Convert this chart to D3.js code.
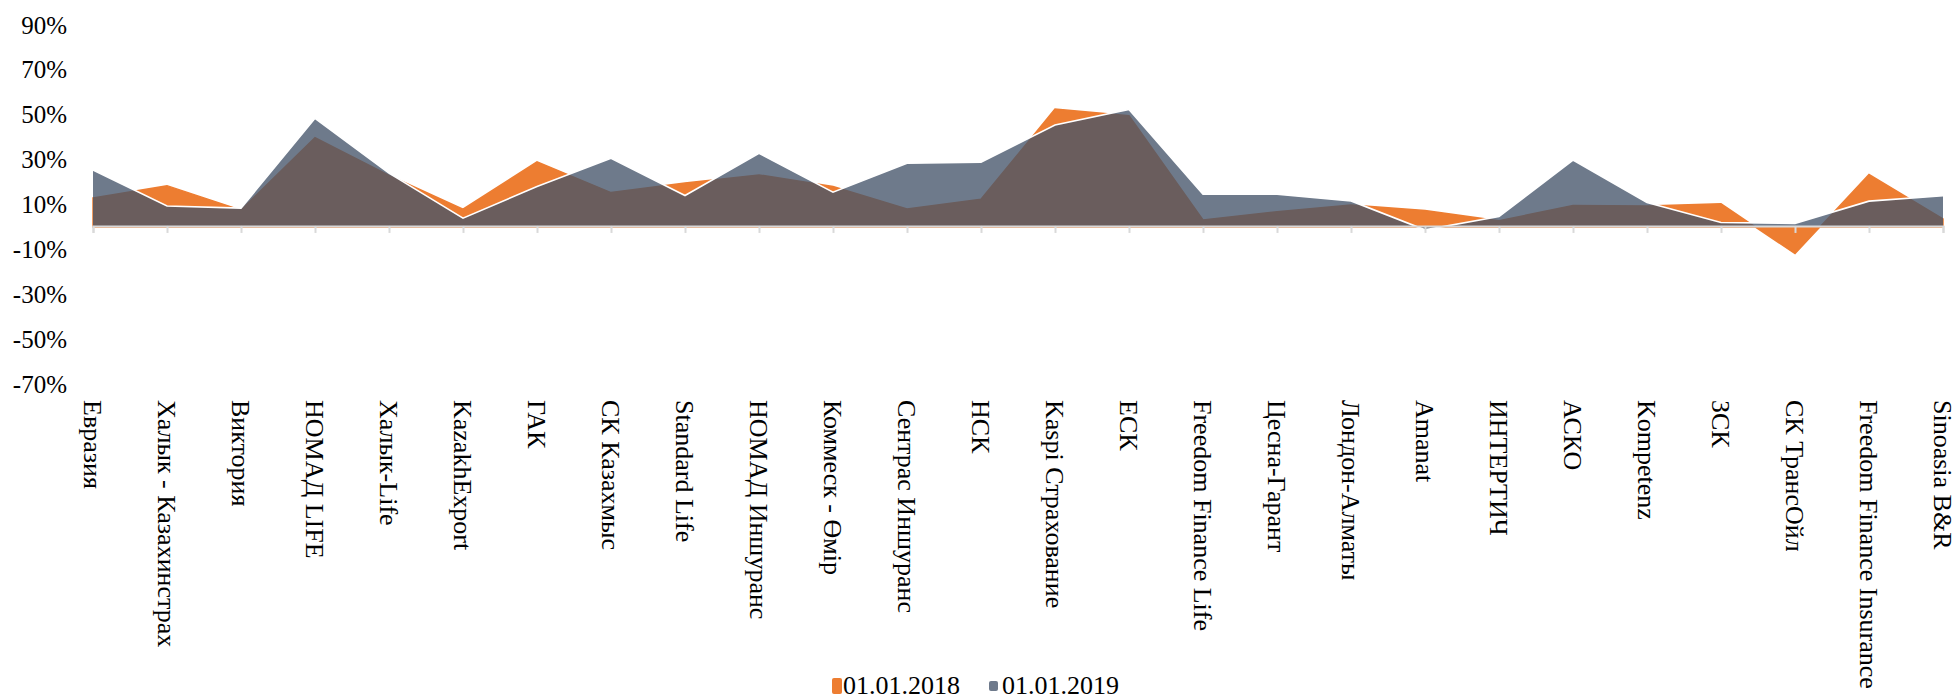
<!DOCTYPE html>
<html>
<head>
<meta charset="utf-8">
<script src="https://cdn.jsdelivr.net/npm/d3@7"></script>
<style>
  body { margin: 0; background: #fff; }
  text { font-family: "Liberation Serif", "Times New Roman", serif; fill: #000; }
</style>
</head>
<body>
<div id="chart"></div>
<script>
// insurance companies (x axis)
var categories = ["Евразия", "Халык - Казахинстрах", "Виктория", "НОМАД LIFE", "Халык-Life",
  "KazakhExport", "ГАК", "СК Казахмыс", "Standard Life", "НОМАД Иншуранс", "Коммеск - Өмір",
  "Сентрас Иншуранс", "НСК", "Kaspi Страхование", "ЕСК", "Freedom Finance Life", "Цесна-Гарант",
  "Лондон-Алматы", "Amanat", "ИНТЕРТИЧ", "АСКО", "Kompetenz", "ЗСК", "СК ТрансОйл",
  "Freedom Finance Insurance", "Sinoasia B&R"];

// values in %
var v2018 = [12.9, 18.4, 7.5, 39.8, 23, 7.9, 29, 15.3, 19.6, 23.2, 18, 8, 12.3, 52.6, 49.6,
  3.1, 6.8, 9.8, 7.3, 2.8, 9.5, 9.3, 10.3, -11.9, 23.4, 3.6];
var v2019 = [25.4, 9.3, 8.4, 48.4, 24, 3.9, 18, 30.6, 14, 32.8, 15.5, 28.4, 28.8, 45.4, 52.4,
  14.6, 14.6, 11.6, -1.3, 4.6, 29.8, 10.9, 2, 1.6, 11.5, 13.9];

var seriesNames = ["01.01.2018", "01.01.2019"];
var yTicks = [-70, -50, -30, -10, 10, 30, 50, 70, 90];

var svgWidth = 1955;
var svgHeight = 696;

var svg = d3.select("#chart")
  .append("svg")
  .attr("width", svgWidth)
  .attr("height", svgHeight);

// scales
var xScale = d3.scalePoint()
  .domain(categories)
  .range([93, 1943]);

var yScale = d3.scaleLinear()
  .domain([-70, 90])
  .range([384, 25]);

var data2018 = categories.map((c, i) => ({ c: c, v: v2018[i] }));
var data2019 = categories.map((c, i) => ({ c: c, v: v2019[i] }));

var area = d3.area()
  .x(d => xScale(d.c))
  .y0(yScale(0))
  .y1(d => yScale(d.v));

var line = d3.line()
  .x(d => xScale(d.c))
  .y(d => yScale(d.v));

// orange area first
svg.append("path")
  .datum(data2018)
  .attr("d", area)
  .attr("fill", "#ED7D31")
  .attr("stroke", "#ED7D31")
  .attr("stroke-width", 1.5);

// gray area on top, semi transparent
svg.append("path")
  .datum(data2019)
  .attr("d", area)
  .attr("fill", "#44546A")
  .attr("fill-opacity", 0.775);

svg.append("path")
  .datum(data2019)
  .attr("d", line)
  .attr("fill", "none")
  .attr("stroke", "#fff")
  .attr("stroke-width", 1.6);

// x axis at zero
var xAxis = d3.axisBottom(xScale)
  .tickSize(7)
  .tickFormat("");

var xAxisG = svg.append("g")
  .attr("transform", `translate(0, ${yScale(0) - 1})`)
  .call(xAxis);
xAxisG.select(".domain").attr("stroke", "#d9d9d9").attr("stroke-width", 2);
xAxisG.selectAll(".tick line").attr("stroke", "#d9d9d9").attr("stroke-width", 2);

// y axis labels (no line)
var yAxis = d3.axisLeft(yScale)
  .tickValues(yTicks)
  .tickSize(0)
  .tickPadding(0)
  .tickFormat(d => d + "%");

var yAxisG = svg.append("g")
  .attr("transform", "translate(67, 0)")
  .call(yAxis);
yAxisG.select(".domain").remove();
yAxisG.selectAll("text")
  .attr("font-size", 25)
  .attr("font-family", "Liberation Serif, Times New Roman, serif");

// category labels, rotated
svg.append("g")
  .selectAll("text")
  .data(categories)
  .enter()
  .append("text")
  .attr("transform", d => `translate(${xScale(d)}, 400) rotate(90)`)
  .attr("dy", "0.33em")
  .attr("font-size", 26)
  .text(d => d);

// legend
var legend = svg.append("g");
var legendItems = [
  { name: seriesNames[0], color: "#ED7D31", x: 832, w: 10, h: 16, text: 843 },
  { name: seriesNames[1], color: "#6E7A8C", x: 989, w: 9, h: 10, text: 1002 }
];
legend.selectAll("rect")
  .data(legendItems)
  .enter()
  .append("rect")
  .attr("x", d => d.x)
  .attr("y", d => 686 - d.h / 2)
  .attr("width", d => d.w)
  .attr("height", d => d.h)
  .attr("rx", 2)
  .attr("fill", d => d.color);
legend.selectAll("text")
  .data(legendItems)
  .enter()
  .append("text")
  .attr("x", d => d.text)
  .attr("y", 694)
  .attr("font-size", 26)
  .text(d => d.name);
</script>
</body>
</html>
